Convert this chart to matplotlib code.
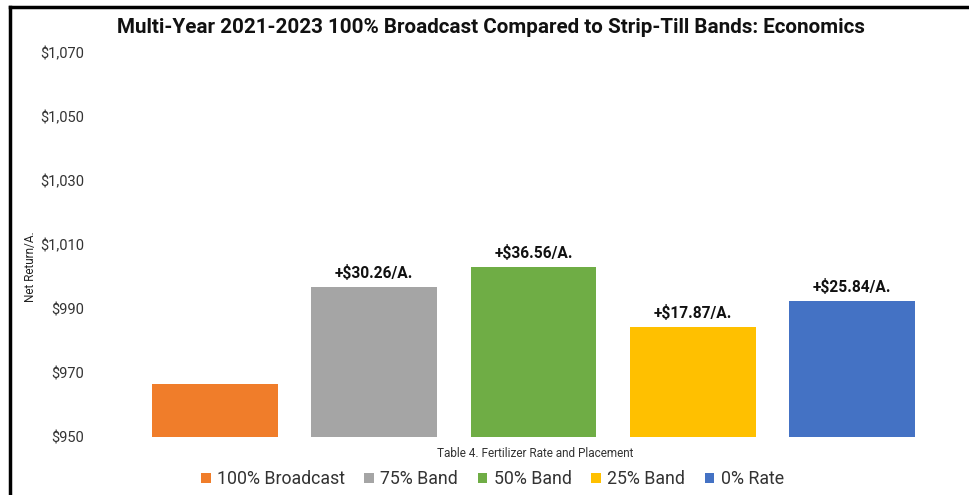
import matplotlib
matplotlib.use("Agg")
import matplotlib.pyplot as plt
from matplotlib.patches import Patch
from matplotlib.lines import Line2D

categories = ["100% Broadcast", "75% Band", "50% Band", "25% Band", "0% Rate"]
net_return = [966.55, 996.81, 1003.11, 984.42, 992.39]
bar_labels = ["", "+$30.26/A.", "+$36.56/A.", "+$17.87/A.", "+$25.84/A."]
colors = ["#F07D2A", "#A5A5A5", "#6FAD45", "#FFC000", "#4472C4"]
yticks = [950, 970, 990, 1010, 1030, 1050, 1070]
ytick_labels = ["$950", "$970", "$990", "$1,010", "$1,030", "$1,050", "$1,070"]

plt.rcParams['font.family'] = ['Roboto', 'DejaVu Sans']

fig = plt.figure(figsize=(9.69, 4.95), dpi=100)
ax = fig.add_axes([0.1396, 0.1172, 0.8219, 0.7758])

x = list(range(len(categories)))
bars = ax.bar(x, [v - 950 for v in net_return], bottom=950, width=0.79,
              color=colors, label=categories)

for xi, v, lab in zip(x, net_return, bar_labels):
    if lab:
        ax.text(xi, v + 1.9, lab, ha='center', va='bottom', fontsize=11.2,
                fontweight='bold', color='#111111')

ax.set_xlim(-0.5, 4.5)
ax.set_ylim(950, 1070)
ax.set_yticks(yticks)
ax.set_yticklabels(ytick_labels, fontsize=10.5, color='#333333')
ax.set_xticks([])
ax.tick_params(axis='y', length=0, pad=37)
for s in ax.spines.values():
    s.set_visible(False)

fig.text(0.031, 0.462, "Net Return/A.", rotation=90, ha='center', va='center',
         fontsize=8.5, color='#222222')
fig.text(0.552, 0.083, "Table 4. Fertilizer Rate and Placement", ha='center',
         va='center', fontsize=8.5, color='#333333')
fig.text(0.507, 0.945, "Multi-Year 2021-2023 100% Broadcast Compared to Strip-Till Bands: Economics",
         ha='center', va='center', fontsize=14.9, fontweight='bold', color='#111111')

handles = [Patch(facecolor=c, edgecolor='none') for c in colors]
leg = fig.legend(handles, categories, loc='center', bbox_to_anchor=(0.508, 0.032),
                 ncol=5, frameon=False, fontsize=12.8, handlelength=0.55,
                 handleheight=0.55, handletextpad=0.35, columnspacing=1.1,
                 labelcolor='#333333')

# black frame on top and left edges
fig.add_artist(Line2D([0.0105, 1.0], [0.986, 0.986], transform=fig.transFigure,
                      color='black', linewidth=2.5))
fig.add_artist(Line2D([0.0105, 0.0105], [0.0, 0.986], transform=fig.transFigure,
                      color='black', linewidth=2.5))

fig.savefig("out.png", dpi=100)
